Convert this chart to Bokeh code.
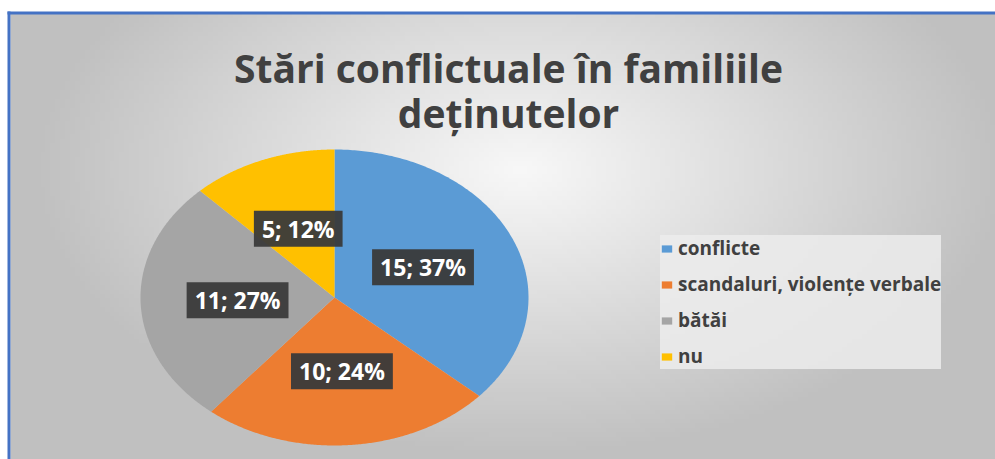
import numpy as np
from bokeh.plotting import figure
from bokeh.models import Label, Legend, LegendItem, ColumnDataSource
from bokeh.embed import file_html
from bokeh.resources import INLINE

# ---- data ----
categories = ["conflicte", "scandaluri, violențe verbale", "bătăi", "nu"]
counts = [15, 10, 11, 5]
percent_labels = ["37%", "24%", "27%", "12%"]
colors = ["#5B9BD5", "#ED7D31", "#A5A5A5", "#FFC000"]
title_lines = ["Stări conflictuale în familiile", "deținutelor"]

W, H = 995, 459
p = figure(width=W, height=H, x_range=(0, W), y_range=(0, H),
           output_backend="svg", toolbar_location=None,
           x_axis_type=None, y_axis_type=None, min_border=0)
p.grid.visible = False
p.outline_line_color = None
p.background_fill_color = "white"
p.border_fill_color = "white"

# ---- radial gradient background ----
gx0, gx1, gy0, gy1 = 10, W, 0, 446
nx, ny = 200, 100
xs_g = np.linspace(gx0, gx1, nx)
ys_g = np.linspace(gy0, gy1, ny)
XX, YY = np.meshgrid(xs_g, ys_g)
d = np.sqrt(((XX - 520) / 560.0) ** 2 + ((YY - 290) / 330.0) ** 2)
g = np.clip(248 - 64 * d, 192, 250).astype(np.uint32)
img = np.empty((ny, nx), dtype=np.uint32)
view = img.view(dtype=np.uint8).reshape((ny, nx, 4))
view[:, :, 0] = g
view[:, :, 1] = g
view[:, :, 2] = g
view[:, :, 3] = 255
p.image_rgba(image=[img], x=gx0, y=gy0, dw=gx1 - gx0, dh=gy1 - gy0)

# ---- blue frame ----
p.quad(left=7, right=W, bottom=445, top=448, fill_color="#4472C4", line_color=None)
p.quad(left=7, right=10, bottom=0, top=448, fill_color="#4472C4", line_color=None)

# ---- pie (elliptical, as in the stretched original) ----
cx, cy, rx, ry = 334, 162, 194, 148
total = float(sum(counts))
fracs = [c / total for c in counts]
starts = np.cumsum([0] + fracs[:-1]) * 2 * np.pi
ends = np.cumsum(fracs) * 2 * np.pi
pxs, pys = [], []
for a0, a1 in zip(starts, ends):
    t = np.linspace(a0, a1, 200)
    pxs.append([cx] + list(cx + rx * np.sin(t)) + [cx])
    pys.append([cy] + list(cy + ry * np.cos(t)) + [cy])
src = ColumnDataSource(dict(xs=pxs, ys=pys, color=colors, cat=categories))
r = p.patches("xs", "ys", source=src, fill_color="color", line_color=None)

# ---- data labels ----
pad = dict(left=8, right=8, top=2, bottom=2)
for i, (c, pct) in enumerate(zip(counts, percent_labels)):
    mid = (starts[i] + ends[i]) / 2
    lx = cx + 0.5 * rx * np.sin(mid)
    ly = cy + 0.5 * ry * np.cos(mid)
    txt = f"{c}; {pct}"
    shadow = Label(x=lx + 3, y=ly - 3, text=txt, text_align="center", text_baseline="middle",
                   text_font="Open Sans", text_font_style="bold", text_font_size="23px",
                   text_alpha=0, background_fill_color="black", background_fill_alpha=0.18,
                   padding=pad)
    p.add_layout(shadow)
    lab = Label(x=lx, y=ly, text=txt, text_align="center", text_baseline="middle",
                text_font="Open Sans", text_font_style="bold", text_font_size="23px",
                text_color="white", background_fill_color="#3a3a3a", background_fill_alpha=0.95,
                padding=pad)
    p.add_layout(lab)

# ---- title ----
for line, yy in zip(title_lines, [392, 347]):
    p.add_layout(Label(x=508, y=yy, text=line, text_align="center", text_baseline="alphabetic",
                       text_font="Open Sans", text_font_style="bold", text_font_size="39px",
                       text_color="#404040"))

# ---- legend ----
items = [LegendItem(label=cat, renderers=[r], index=i) for i, cat in enumerate(categories)]
legend = Legend(items=items, location=(660, 90), orientation="vertical",
                background_fill_color="#ececec", background_fill_alpha=0.85,
                border_line_color=None, label_text_font="Open Sans",
                label_text_font_style="bold", label_text_font_size="19px",
                label_text_color="#404040", glyph_width=13, glyph_height=9,
                label_height=21, spacing=10, padding=8, margin=0, label_standoff=5)
p.add_layout(legend)

open("out.html", "w").write(file_html(p, INLINE))
